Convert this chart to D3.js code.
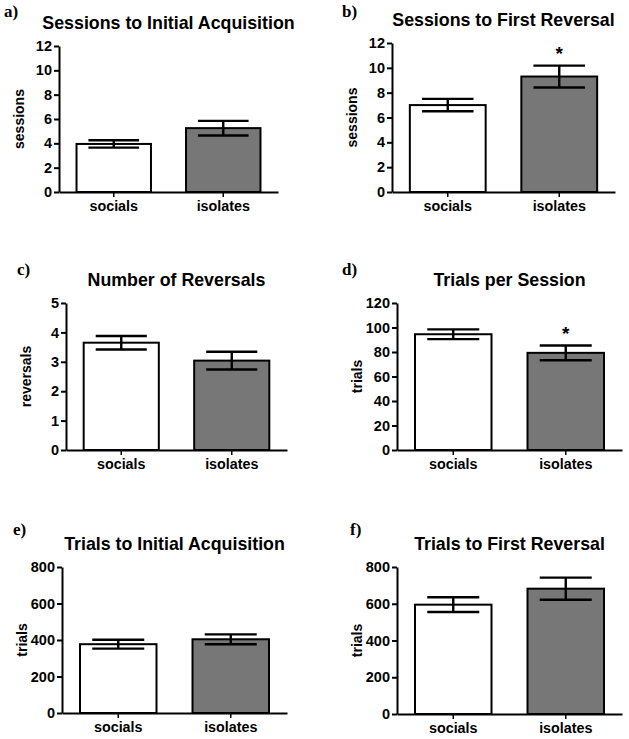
<!DOCTYPE html>
<html>
<head>
<meta charset="utf-8">
<script src="https://cdn.jsdelivr.net/npm/d3@7/dist/d3.min.js"></script>
<style>
  html, body { margin: 0; padding: 0; background: #fff; }
  svg { display: block; }
  .tick text { font-family: "Liberation Sans", Arial, sans-serif; font-weight: bold; }
</style>
</head>
<body>
<svg id="chart" width="629" height="739"></svg>
<script>
// ---- data ----
const groups = ["socials", "isolates"];
const panelLetters = ["a)", "b)", "c)", "d)", "e)", "f)"];
const titles = [
  "Sessions to Initial Acquisition",
  "Sessions to First Reversal",
  "Number of Reversals",
  "Trials per Session",
  "Trials to Initial Acquisition",
  "Trials to First Reversal"
];
const yLabels = ["sessions", "sessions", "reversals", "trials", "trials", "trials"];
const yMaxes = [12, 12, 5, 120, 800, 800];
const yTickValues = [
  [0, 2, 4, 6, 8, 10, 12],
  [0, 2, 4, 6, 8, 10, 12],
  [0, 1, 2, 3, 4, 5],
  [0, 20, 40, 60, 80, 100, 120],
  [0, 200, 400, 600, 800],
  [0, 200, 400, 600, 800]
];
const socialsMeans  = [3.95, 7.0, 3.65, 94.5, 377, 595];
const socialsSEM    = [0.3, 0.5, 0.23, 4, 24, 40];
const isolatesMeans = [5.25, 9.3, 3.04, 79.3, 404, 682];
const isolatesSEM   = [0.6, 0.88, 0.3, 6, 27, 60];
const isolatesSignificant = [false, true, false, true, false, false];

// ---- layout (pixel geometry of each panel) ----
const layout = [
  { x0: 59,  x1: 278, yTop: 46,  yBot: 192, letterX: 4,   letterY: 17 },
  { x0: 392, x1: 615, yTop: 43,  yBot: 192, letterX: 342, letterY: 17 },
  { x0: 66,  x1: 287, yTop: 303, yBot: 450, letterX: 17,  letterY: 275 },
  { x0: 397, x1: 622, yTop: 303, yBot: 450, letterX: 342, letterY: 275 },
  { x0: 62,  x1: 287, yTop: 567, yBot: 713, letterX: 13,  letterY: 535 },
  { x0: 397, x1: 622, yTop: 567, yBot: 714, letterX: 350, letterY: 535 }
];

const FONT = '"Liberation Sans", Arial, Helvetica, sans-serif';
const SERIF = '"Liberation Serif", "Times New Roman", serif';
const fills = { socials: "#ffffff", isolates: "#777777" };

const svg = d3.select("#chart");

layout.forEach((L, i) => {
  const g = svg.append("g");
  const rows = [
    { group: "socials",  mean: socialsMeans[i],  sem: socialsSEM[i],  sig: false },
    { group: "isolates", mean: isolatesMeans[i], sem: isolatesSEM[i], sig: isolatesSignificant[i] }
  ];

  const x = d3.scaleBand().domain(groups).range([L.x0, L.x1])
    .paddingInner(0.32).paddingOuter(0.16);
  const y = d3.scaleLinear().domain([0, yMaxes[i]]).range([L.yBot, L.yTop]);

  // bars
  g.selectAll("rect.bar").data(rows).enter().append("rect")
    .attr("class", "bar")
    .attr("x", d => x(d.group))
    .attr("width", x.bandwidth())
    .attr("y", d => y(d.mean))
    .attr("height", d => y(0) - y(d.mean))
    .attr("fill", d => fills[d.group])
    .attr("stroke", "#000")
    .attr("stroke-width", 2);

  // error bars
  const capW = x.bandwidth() * 0.68;
  const eb = g.selectAll("g.err").data(rows).enter().append("g").attr("class", "err")
    .attr("stroke", "#000").attr("stroke-width", 2.4);
  eb.append("line")
    .attr("x1", d => x(d.group) + x.bandwidth() / 2)
    .attr("x2", d => x(d.group) + x.bandwidth() / 2)
    .attr("y1", d => y(d.mean - d.sem))
    .attr("y2", d => y(d.mean + d.sem));
  eb.append("line")
    .attr("x1", d => x(d.group) + x.bandwidth() / 2 - capW / 2)
    .attr("x2", d => x(d.group) + x.bandwidth() / 2 + capW / 2)
    .attr("y1", d => y(d.mean + d.sem))
    .attr("y2", d => y(d.mean + d.sem));
  eb.append("line")
    .attr("x1", d => x(d.group) + x.bandwidth() / 2 - capW / 2)
    .attr("x2", d => x(d.group) + x.bandwidth() / 2 + capW / 2)
    .attr("y1", d => y(d.mean - d.sem))
    .attr("y2", d => y(d.mean - d.sem));

  // significance asterisks
  g.selectAll("text.sig").data(rows.filter(d => d.sig)).enter().append("text")
    .attr("class", "sig")
    .attr("x", d => x(d.group) + x.bandwidth() / 2)
    .attr("y", d => y(d.mean + d.sem) - 6)
    .attr("text-anchor", "middle")
    .attr("font-family", FONT).attr("font-weight", "bold").attr("font-size", 19)
    .text("*");

  // y axis
  const yAxis = g.append("g")
    .attr("transform", `translate(${L.x0},0)`)
    .call(d3.axisLeft(y).tickValues(yTickValues[i]).tickSize(5).tickSizeOuter(0).tickPadding(2).tickFormat(d3.format("d")));
  yAxis.select(".domain").attr("stroke-width", 2);
  yAxis.selectAll(".tick line").attr("stroke-width", 2);
  yAxis.selectAll(".tick text").attr("font-size", 14.5).attr("fill", "#000");

  // x axis
  const xAxis = g.append("g")
    .attr("transform", `translate(0,${L.yBot})`)
    .call(d3.axisBottom(x).tickSize(5).tickSizeOuter(0).tickPadding(4));
  xAxis.select(".domain").attr("stroke-width", 2);
  xAxis.selectAll(".tick line").attr("stroke-width", 1.5);
  xAxis.selectAll(".tick text").attr("font-size", 14.3).attr("fill", "#000");

  // title
  g.append("text")
    .attr("x", (L.x0 + L.x1) / 2)
    .attr("y", L.yTop - 17)
    .attr("text-anchor", "middle")
    .attr("font-family", FONT).attr("font-weight", "bold").attr("font-size", 17.8)
    .text(titles[i]);

  // y label
  g.append("text")
    .attr("transform", `translate(${L.x0 - 35},${(L.yTop + L.yBot) / 2}) rotate(-90)`)
    .attr("text-anchor", "middle")
    .attr("font-family", FONT).attr("font-weight", "bold").attr("font-size", 14)
    .text(yLabels[i]);

  // panel letter
  g.append("text")
    .attr("x", L.letterX)
    .attr("y", L.letterY)
    .attr("font-family", SERIF).attr("font-weight", "bold").attr("font-size", 17)
    .text(panelLetters[i]);
});
</script>
</body>
</html>
